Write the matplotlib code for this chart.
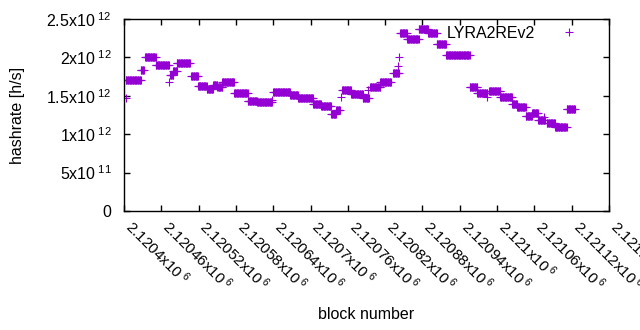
import numpy as np
import matplotlib
matplotlib.use('Agg')
import matplotlib.pyplot as plt

# runs of constant hashrate (block offsets from 2120400)
run_start = [3, 3, 27, 34, 51, 72, 74, 79, 85, 108, 119, 133, 143, 150, 158, 177, 199,
             214, 238, 240, 267, 280, 304, 317, 333, 341, 349, 351, 365, 384, 392, 396,
             412, 433, 441, 442, 444, 455, 474, 489, 503, 518, 556, 568, 584, 587, 605,
             624, 632, 646, 656, 666, 675, 680, 693, 712]
run_end = [3, 27, 32, 51, 72, 72, 79, 85, 106, 119, 133, 143, 150, 158, 177, 199, 214,
           238, 238, 267, 280, 304, 317, 333, 341, 347, 349, 365, 384, 394, 392, 412,
           429, 442, 441, 442, 455, 474, 489, 503, 518, 556, 568, 584, 584, 605, 624,
           632, 646, 656, 666, 677, 675, 693, 712, 725]
run_rate = [1.471, 1.706, 1.836, 2.005, 1.901, 1.680, 1.771, 1.823, 1.927, 1.758, 1.628,
            1.588, 1.641, 1.615, 1.680, 1.536, 1.432, 1.419, 1.445, 1.549, 1.510, 1.471,
            1.393, 1.367, 1.263, 1.315, 1.484, 1.575, 1.523, 1.471, 1.575, 1.614, 1.680,
            1.797, 1.888, 2.005, 2.318, 2.239, 2.370, 2.318, 2.174, 2.031, 1.614, 1.536,
            1.484, 1.562, 1.484, 1.393, 1.354, 1.237, 1.276, 1.185, 1.224, 1.146, 1.094,
            1.328]

block_base = 2120400
x_ticks = [2120400 + 60 * i for i in range(14)]
y_ticks = [0, 0.5e12, 1e12, 1.5e12, 2e12, 2.5e12]
y_labels = ['0', r'5x10$^{\ 11}$', r'1x10$^{\ 12}$', r'1.5x10$^{\ 12}$',
            r'2x10$^{\ 12}$', r'2.5x10$^{\ 12}$']

plt.rcParams['font.family'] = ['Liberation Sans', 'DejaVu Sans']
plt.rcParams['mathtext.fontset'] = 'custom'
plt.rcParams['mathtext.rm'] = 'Liberation Sans'
plt.rcParams['mathtext.it'] = 'Liberation Sans:italic'
plt.rcParams['mathtext.bf'] = 'Liberation Sans:bold'

# one point per block inside each run
xs = []
ys = []
for s, e, r in zip(run_start, run_end, run_rate):
    for b in range(s, e + 1):
        xs.append(block_base + b)
        ys.append(r * 1e12)

fig = plt.figure(figsize=(6.4, 3.3), dpi=100)
ax = fig.add_axes([124 / 640, 1 - 211 / 330, 485 / 640, 192 / 330])

ax.plot(xs, ys, linestyle='none', marker='+', color='#9400d3',
        markersize=5.2, markeredgewidth=0.8, label='LYRA2REv2')

ax.set_xlim(2120400, 2121180)
ax.set_ylim(0, 2.5e12)
ax.set_xticks(x_ticks)
ax.set_xticklabels(['%g' % (t / 1e6) + r'x10$^{\ 6}$' for t in x_ticks])
ax.set_yticks(y_ticks)
ax.set_yticklabels(y_labels)

ax.tick_params(direction='in', length=4, width=1, top=True, right=True,
               color='black')
ax.tick_params(axis='y', pad=9, labelsize=11.5)
ax.tick_params(axis='x', pad=12, labelsize=11)
for lab in ax.get_xticklabels():
    lab.set_rotation(-45)
    lab.set_ha('left')
    lab.set_va('baseline')
    lab.set_rotation_mode('anchor')
for sp in ax.spines.values():
    sp.set_linewidth(1)

ax.set_xlabel('block number', fontsize=11.5)
ax.xaxis.set_label_coords(0.5, -0.50)
ax.set_ylabel('hashrate [h/s]', fontsize=11.5)
ax.yaxis.set_label_coords(-0.204, 0.5)

ax.legend(loc='upper right', bbox_to_anchor=(0.95, 0.965), frameon=False,
          markerfirst=False, fontsize=11.5, handletextpad=1.1, borderpad=0,
          borderaxespad=0, numpoints=1)

fig.savefig('out.png', dpi=100)
